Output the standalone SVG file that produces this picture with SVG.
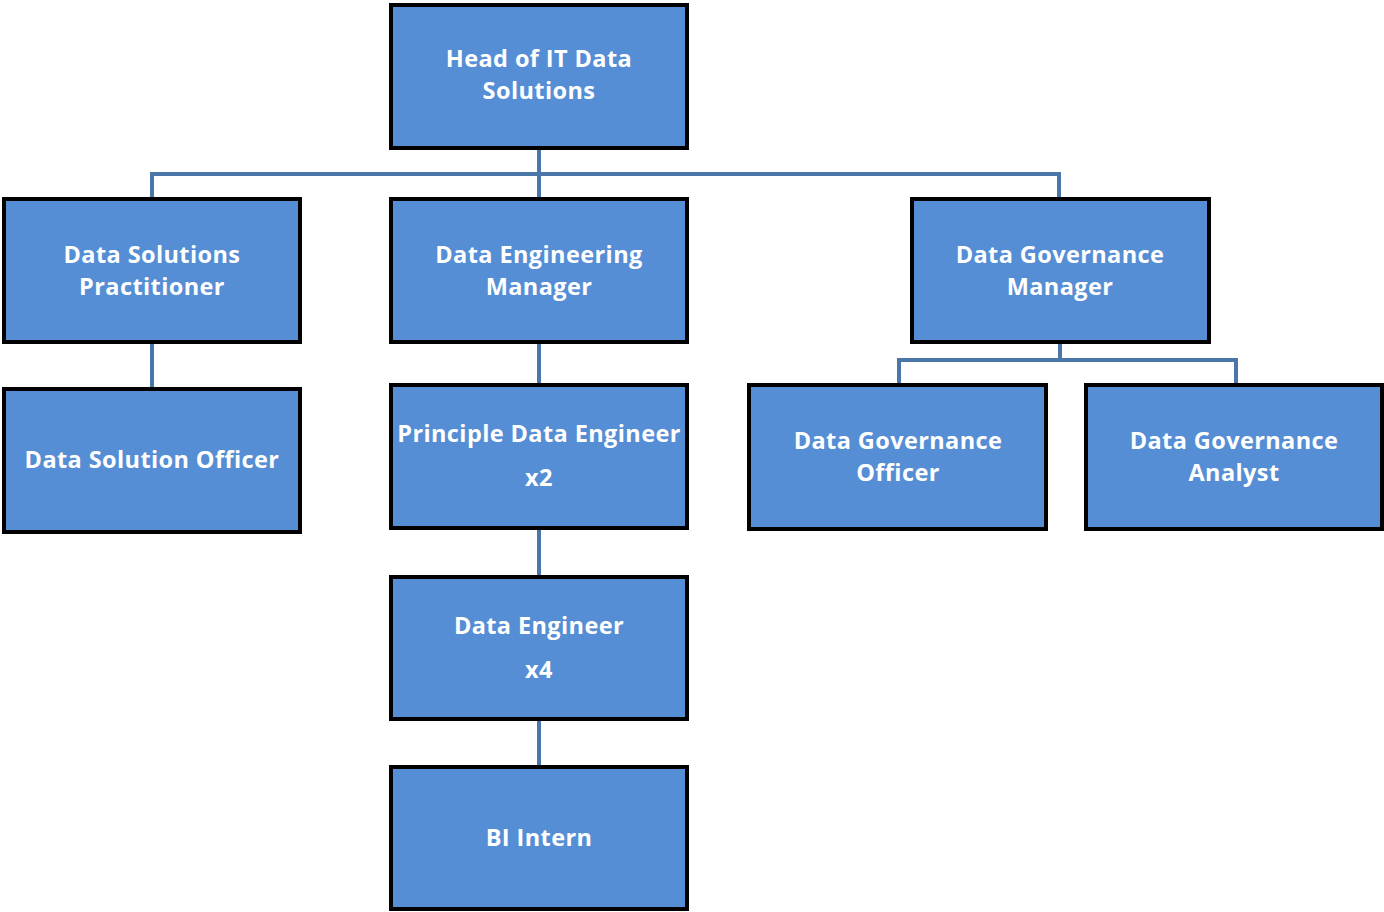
<svg xmlns="http://www.w3.org/2000/svg" width="1384" height="912" viewBox="0 0 1384 912">
  <style>
    .box { fill: #558ED5; stroke: #000000; stroke-width: 4; }
    .lbl { fill: #ffffff; font-family: "Open Sans", "Noto Sans", "DejaVu Sans", sans-serif; font-weight: 700; font-size: 23.5px; letter-spacing: 0.4px; text-anchor: middle; }
    .link { fill: none; stroke: #4A76A8; stroke-width: 4; }
  </style>
  <rect width="1384" height="912" fill="#ffffff"/>

  <!-- reporting lines -->
  <g id="connectors">
    <path class="link" d="M539 148 V199"/>
    <path class="link" d="M152 199 V174 H1059 V199"/>
    <path class="link" d="M152 342 V389"/>
    <path class="link" d="M539 342 V385"/>
    <path class="link" d="M539 528 V577"/>
    <path class="link" d="M539 719 V767"/>
    <path class="link" d="M1060 342 V360"/>
    <path class="link" d="M899 385 V360 H1236 V385"/>
  </g>

  <g id="head-it-data-solutions">
    <rect class="box" x="391" y="5" width="296" height="143"/>
    <text class="lbl" x="539" y="67">Head of IT Data</text>
    <text class="lbl" x="539" y="99">Solutions</text>
  </g>

  <g id="data-solutions-practitioner">
    <rect class="box" x="4" y="199" width="296" height="143"/>
    <text class="lbl" x="152" y="263">Data Solutions</text>
    <text class="lbl" x="152" y="295">Practitioner</text>
  </g>

  <g id="data-engineering-manager">
    <rect class="box" x="391" y="199" width="296" height="143"/>
    <text class="lbl" x="539" y="263">Data Engineering</text>
    <text class="lbl" x="539" y="295">Manager</text>
  </g>

  <g id="data-governance-manager">
    <rect class="box" x="912" y="199" width="297" height="143"/>
    <text class="lbl" x="1060" y="263">Data Governance</text>
    <text class="lbl" x="1060" y="295">Manager</text>
  </g>

  <g id="data-solution-officer">
    <rect class="box" x="4" y="389" width="296" height="143"/>
    <text class="lbl" x="152" y="468">Data Solution Officer</text>
  </g>

  <g id="principle-data-engineer">
    <rect class="box" x="391" y="385" width="296" height="143"/>
    <text class="lbl" x="539" y="442">Principle Data Engineer</text>
    <text class="lbl" x="539" y="486">x2</text>
  </g>

  <g id="data-governance-officer">
    <rect class="box" x="749" y="385" width="297" height="144"/>
    <text class="lbl" x="898" y="449">Data Governance</text>
    <text class="lbl" x="898" y="481">Officer</text>
  </g>

  <g id="data-governance-analyst">
    <rect class="box" x="1086" y="385" width="296" height="144"/>
    <text class="lbl" x="1234" y="449">Data Governance</text>
    <text class="lbl" x="1234" y="481">Analyst</text>
  </g>

  <g id="data-engineer">
    <rect class="box" x="391" y="577" width="296" height="142"/>
    <text class="lbl" x="539" y="634">Data Engineer</text>
    <text class="lbl" x="539" y="678">x4</text>
  </g>

  <g id="bi-intern">
    <rect class="box" x="391" y="767" width="296" height="142"/>
    <text class="lbl" x="539" y="846">BI Intern</text>
  </g>
</svg>
